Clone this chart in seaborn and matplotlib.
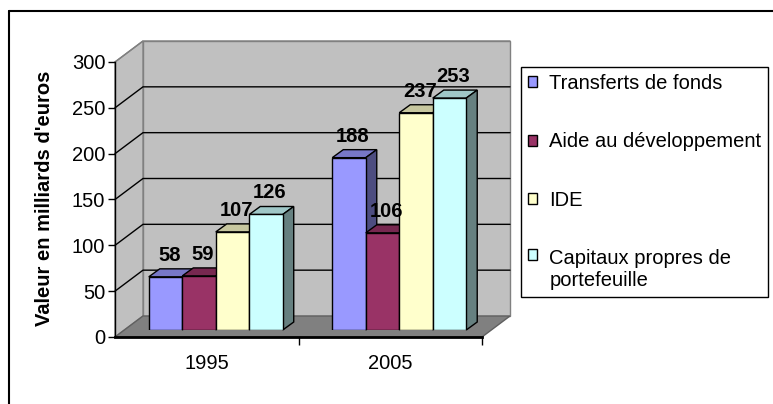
import numpy as np
import pandas as pd
import matplotlib
matplotlib.use("Agg")
import matplotlib.pyplot as plt
from matplotlib.patches import Polygon, Rectangle
from matplotlib.lines import Line2D
from matplotlib.colors import to_rgb
import seaborn as sns

# data
years = ["1995", "2005"]
series = ["Transferts de fonds", "Aide au développement", "IDE",
          "Capitaux propres de\nportefeuille"]
transferts = [58, 188]
aide = [59, 106]
ide = [107, 237]
capitaux = [126, 253]
colors = ["#9999FF", "#993366", "#FFFFCC", "#CCFFFF"]
y_ticks = [0, 50, 100, 150, 200, 250, 300]

df = pd.DataFrame({
    "annee": years * 4,
    "serie": np.repeat(series, len(years)),
    "valeur": transferts + aide + ide + capitaux,
})

sns.set_theme(style="white")
plt.rcParams["font.family"] = ["Liberation Sans", "DejaVu Sans"]
plt.rcParams.update({"text.color": "black", "axes.labelcolor": "black",
                     "xtick.color": "black", "ytick.color": "black"})
FS = 14.5

W, H = 773, 404
fig = plt.figure(figsize=(W / 100, H / 100), dpi=100)
fig.patch.set_facecolor("white")


def box(l, t, r, b):
    return [l / W, 1 - b / H, (r - l) / W, (b - t) / H]


def px(ax, x, y, dx=0.0, dy=0.0):
    # data point -> figure fraction, shifted by dx, dy screen pixels
    X, Y = ax.transData.transform((x, y))
    return fig.transFigure.inverted().transform((X + dx, Y + dy))


# front plane: axis, ticks, floor and walls
ax_front = fig.add_axes(box(115, 62, 482, 337))
ax_front.set_xlim(-0.5, len(years) - 0.5)
ax_front.set_ylim(0, 300)
ax_front.set_autoscale_on(False)
ax_front.patch.set_visible(False)
back = (28, 21)  # depth of the box in pixels
x0, x1 = -0.5, len(years) - 0.5

wall = Polygon([px(ax_front, x0, 0, *back), px(ax_front, x1, 0, *back),
                px(ax_front, x1, 300, *back), px(ax_front, x0, 300, *back)],
               closed=True, fc="#C0C0C0", ec="#808080", lw=1,
               transform=fig.transFigure, clip_on=False, zorder=0.1)
side = Polygon([px(ax_front, x0, 0), px(ax_front, x0, 300),
                px(ax_front, x0, 300, *back), px(ax_front, x0, 0, *back)],
               closed=True, fc="#C0C0C0", ec="#808080", lw=1,
               transform=fig.transFigure, clip_on=False, zorder=0.1)
floor = Polygon([px(ax_front, x0, 0), px(ax_front, x1, 0),
                 px(ax_front, x1, 0, *back), px(ax_front, x0, 0, *back)],
                closed=True, fc="#808080", ec="#606060", lw=1,
                transform=fig.transFigure, clip_on=False, zorder=0.2)
for p in (wall, side, floor):
    ax_front.add_patch(p)

for t in y_ticks[1:]:
    pts = np.array([px(ax_front, x0, t), px(ax_front, x0, t, *back),
                    px(ax_front, x1, t, *back)])
    ax_front.add_line(Line2D(pts[:, 0], pts[:, 1], transform=fig.transFigure,
                             color="#808080" if t == 300 else "black", lw=1,
                             clip_on=False, zorder=0.15))

for s in ["top", "right"]:
    ax_front.spines[s].set_visible(False)
ax_front.spines["left"].set_color("black")
ax_front.spines["left"].set_linewidth(1)
ax_front.spines["bottom"].set_color("black")
ax_front.spines["bottom"].set_linewidth(2)
ax_front.set_yticks(y_ticks)
ax_front.set_xticks(range(len(years)), years)
ax_front.set_xticks([0.5, 1.5], minor=True)
ax_front.tick_params(axis="y", which="major", left=True, length=5, width=1,
                     color="black", labelcolor="black", labelsize=FS, pad=2,
                     direction="out")
ax_front.tick_params(axis="x", which="major", bottom=False, labelsize=FS,
                     labelcolor="black", pad=6)
ax_front.tick_params(axis="x", which="minor", bottom=True, length=6, width=1,
                     color="black", direction="out")
ax_front.set_ylabel("Valeur en milliards d'euros", fontsize=FS,
                    fontweight="bold", color="black")
ax_front.yaxis.label.set_va("center")
ax_front.yaxis.set_label_coords((44 - 115) / 367, (337 - 198) / 275)

# bar plane
ax_bar = fig.add_axes(box(124, 55, 491, 330))
ax_bar.set_zorder(ax_front.get_zorder() + 1)
sns.barplot(data=df, x="annee", y="valeur", hue="serie", hue_order=series,
            palette=colors, saturation=1, width=0.73, gap=0,
            edgecolor="black", linewidth=1, legend=False, ax=ax_bar)
ax_bar.set_xlim(-0.5, len(years) - 0.5)
ax_bar.set_ylim(0, 300)
ax_bar.set_axis_off()

depth = (11, 8)
bars = sorted(ax_bar.patches, key=lambda p: p.get_x())
for i, p in enumerate(bars):
    x, w, h = p.get_x(), p.get_width(), p.get_height()
    c = np.array(to_rgb(p.get_facecolor()))
    p.set_zorder(3 + 2 * i + 1)
    top = Polygon([px(ax_bar, x, h), px(ax_bar, x + w, h),
                   px(ax_bar, x + w, h, *depth), px(ax_bar, x, h, *depth)],
                  closed=True, fc=c * 0.78, ec="black", lw=1,
                  transform=fig.transFigure, clip_on=False, zorder=3 + 2 * i)
    right = Polygon([px(ax_bar, x + w, 0), px(ax_bar, x + w, 0, *depth),
                     px(ax_bar, x + w, h, *depth), px(ax_bar, x + w, h)],
                    closed=True, fc=c * 0.5, ec="black", lw=1,
                    transform=fig.transFigure, clip_on=False, zorder=3 + 2 * i)
    ax_bar.add_patch(top)
    ax_bar.add_patch(right)
    ax_bar.annotate(f"{h:.0f}", (x + w / 2, h), xytext=(4, 12),
                    textcoords="offset pixels", ha="center", va="bottom",
                    fontsize=FS, fontweight="bold", color="black",
                    annotation_clip=False, zorder=50)

# legend
handles = [Rectangle((0, 0), 1, 1, fc=c, ec="black", lw=1) for c in colors]
leg = fig.legend(handles, series, loc="upper left",
                 bbox_to_anchor=(521 / W, 1 - 67 / H), borderaxespad=0,
                 frameon=True, fancybox=False, shadow=False, framealpha=1,
                 edgecolor="black", fontsize=FS, handlelength=0.45,
                 handleheight=0.45, handletextpad=0.6, labelspacing=1.95,
                 borderpad=0.35, labelcolor="black")
leg.get_frame().set_linewidth(1)
# put the marker of the two-line entry next to its first line
rows = leg._legend_handle_box.get_children()[0].get_children()
rows[-1].align = "top"
rows[-1].get_children()[0].set_offset((0, -4))

# outer chart frame (cropped at right and bottom)
fig.add_artist(Line2D([9 / W, 1], [1 - 11 / H, 1 - 11 / H], color="black", lw=1.5,
                      transform=fig.transFigure))
fig.add_artist(Line2D([9 / W, 9 / W], [0, 1 - 11 / H], color="black", lw=1.5,
                      transform=fig.transFigure))

fig.savefig("out.png", dpi=100)
